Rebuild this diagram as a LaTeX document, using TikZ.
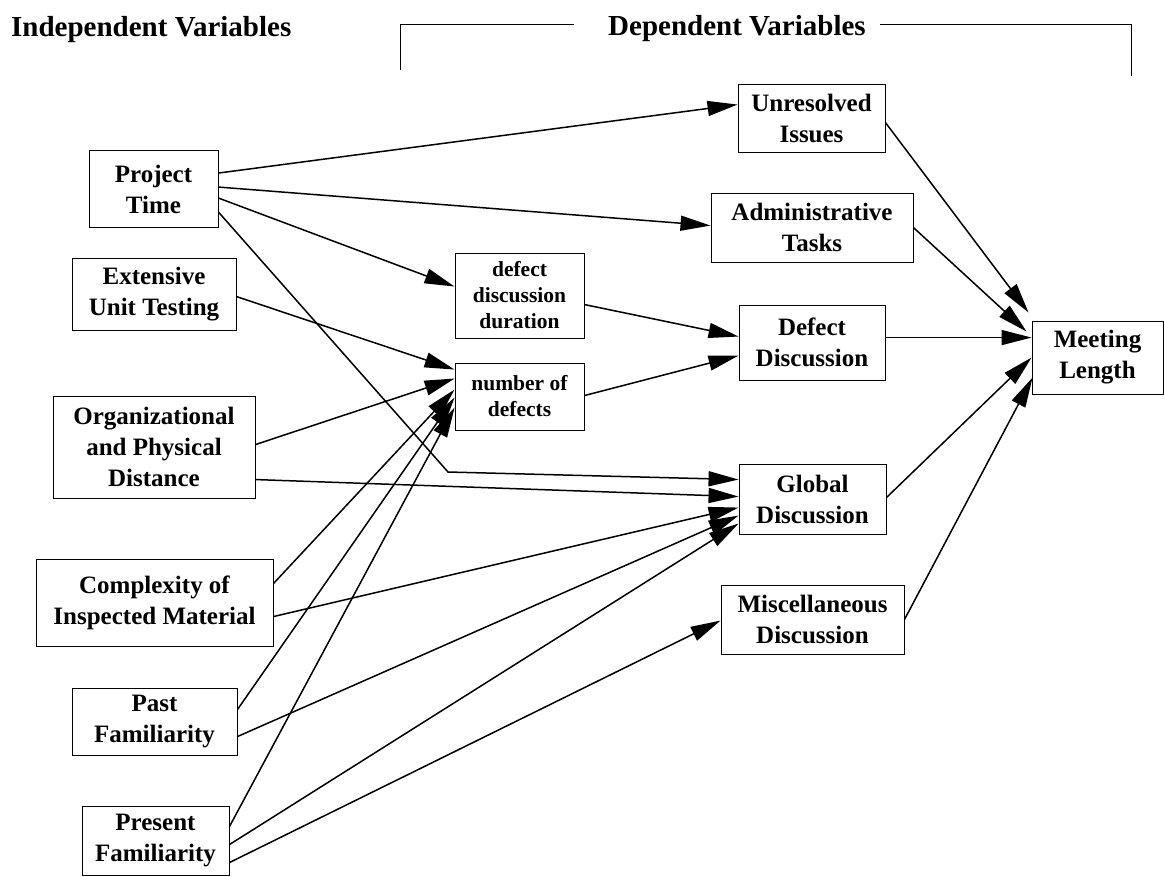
\documentclass[tikz,border=0pt]{standalone}
\usepackage{fontspec}
\setmainfont{Liberation Serif}
\usetikzlibrary{arrows.meta,calc}
\begin{document}
\begin{tikzpicture}[x=1pt,y=-1pt,
  box/.style={draw,line width=0.9pt,align=center,inner sep=0pt,font=\fontsize{25}{31}\selectfont\bfseries},
  sbox/.style={box,font=\fontsize{21.5}{26}\selectfont\bfseries},
  hdr/.style={font=\fontsize{29}{33}\selectfont\bfseries,inner sep=0pt,anchor=base west},
  conn/.style={line width=1.5pt,-{Triangle[length=30pt,width=15pt]}},
  brk/.style={line width=1pt}]
\useasboundingbox (0,0) rectangle (1164,876);
% headers
\node[hdr] (ivar) at (11,36) {Independent Variables};
\node[hdr] (dvar) at (608,35) {Dependent Variables};
\coordinate (bl1) at (400,70); \coordinate (bl2) at (400,24); \coordinate (bl3) at (574,24);
\coordinate (br1) at (880,24); \coordinate (br2) at (1131,24); \coordinate (br3) at (1131,76);
\draw[brk] (bl1) -- (bl2) -- (bl3);
\draw[brk] (br1) -- (br2) -- (br3);
% independent
\node[box,minimum width=129pt,minimum height=77pt] (PT) at (153.5,189) {Project\\Time};
\node[box,minimum width=164pt,minimum height=72pt] (EUT) at (154,294) {Extensive\\Unit Testing};
\node[box,minimum width=202pt,minimum height=102pt] (ORG) at (154,447) {Organizational\\and Physical\\Distance};
\node[box,minimum width=237pt,minimum height=87pt] (CIM) at (154.5,602.5) {Complexity of\\Inspected Material};
\node[box,minimum width=165pt,minimum height=67pt] (PF) at (154.5,721.5) {Past\\Familiarity};
\node[box,minimum width=147pt,minimum height=69pt] (PRF) at (155.5,840.5) {Present\\Familiarity};
% intermediate
\node[sbox,minimum width=129pt,minimum height=85pt] (DDD) at (519.5,295.5) {defect\\discussion\\duration};
\node[sbox,minimum width=129pt,minimum height=67pt] (NOD) at (519.5,396.5) {number of\\defects};
% dependent
\node[box,minimum width=147pt,minimum height=68pt] (UI) at (811.5,118) {Unresolved\\Issues};
\node[box,minimum width=202pt,minimum height=69pt] (AT) at (812,227.5) {Administrative\\Tasks};
\node[box,minimum width=146pt,minimum height=75pt] (DD) at (812,342.5) {Defect\\Discussion};
\node[box,minimum width=147pt,minimum height=70pt] (GD) at (812.5,499) {Global\\Discussion};
\node[box,minimum width=183pt,minimum height=69pt] (MD) at (812.5,619.5) {Miscellaneous\\Discussion};
\node[box,minimum width=131pt,minimum height=73pt] (ML) at (1097.5,357.5) {Meeting\\Length};
% connectors
\coordinate (bend) at (448,472);
\draw[conn] ($(PT.north east)+(0,23)$) -- ($(UI.north west)+(0,21)$);
\draw[conn] ($(PT.north east)+(0,37)$) -- ($(AT.north west)+(0,33)$);
\draw[conn] ($(PT.north east)+(0,48)$) -- ($(DDD.north west)+(0,34)$);
\draw[conn] ($(PT.north east)+(0,62)$) -- (bend) -- ($(GD.north west)+(0,16)$);
\draw[conn] ($(EUT.north east)+(0,39)$) -- ($(NOD.north west)+(0,7)$);
\draw[conn] ($(ORG.north east)+(0,49)$) -- ($(NOD.north west)+(0,16)$);
\draw[conn] ($(ORG.north east)+(0,84)$) -- ($(GD.north west)+(0,33)$);
\draw[conn] ($(CIM.north east)+(0,25)$) -- ($(NOD.north west)+(0,27)$);
\draw[conn] ($(CIM.north east)+(0,58)$) -- ($(GD.north west)+(0,44)$);
\draw[conn] ($(PF.north east)+(0,22)$) -- ($(NOD.north west)+(0,35)$);
\draw[conn] ($(PF.north east)+(0,49)$) -- ($(GD.north west)+(0,52)$);
\draw[conn] ($(PRF.north east)+(0,21)$) -- ($(NOD.north west)+(0,45)$);
\draw[conn] ($(PRF.north east)+(0,39)$) -- ($(GD.north west)+(0,60)$);
\draw[conn] ($(PRF.north east)+(0,57)$) -- ($(MD.north west)+(0,36)$);
\draw[conn] ($(DDD.north east)+(0,52)$) -- ($(DD.north west)+(0,32)$);
\draw[conn] ($(NOD.north east)+(0,33)$) -- ($(DD.north west)+(0,51)$);
\draw[conn] ($(UI.north east)+(0,39)$) -- ($(ML.north west)+(-3,-8)$);
\draw[conn] ($(AT.north east)+(0,35)$) -- ($(ML.north west)+(-5,11)$);
\draw[conn] ($(DD.north east)+(0,33)$) -- ($(ML.north west)+(0,17)$);
\draw[conn] ($(GD.north east)+(0,34)$) -- ($(ML.north west)+(0,37)$);
\draw[conn] ($(MD.north east)+(0,35)$) -- ($(ML.north west)+(1,57)$);
\end{tikzpicture}
\end{document}
